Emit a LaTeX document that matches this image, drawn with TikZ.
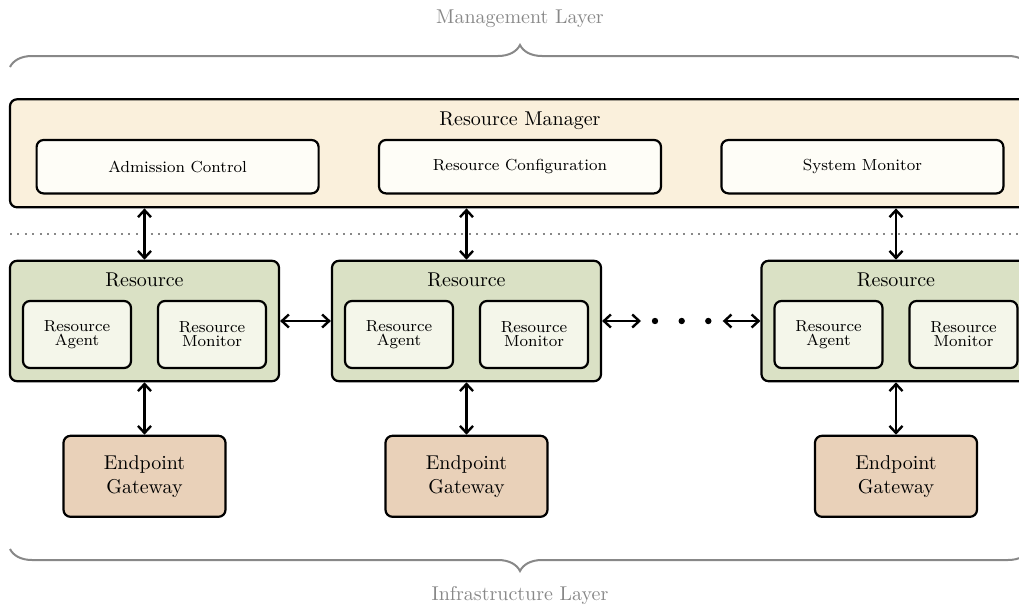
\documentclass[tikz,border=0pt]{standalone}
\definecolor{MgrCream}{HTML}{FAF0DC}
\definecolor{SubIvory}{HTML}{FEFDF7}
\definecolor{ResSage}{HTML}{DAE1C5}
\definecolor{AgentLite}{HTML}{F4F6EA}
\definecolor{GateTan}{HTML}{E9D1B9}
\definecolor{LayerGray}{HTML}{888888}
\usepackage{tikz}
\usepackage{xcolor}
\usetikzlibrary{positioning,arrows.meta,decorations.pathreplacing}

\begin{document}
\begin{tikzpicture}[x=0.5pt,y=-0.5pt,
          box/.style={draw=black,line width=1.1pt,rounded corners=3.5pt,
                      align=center},
          mgrbox/.style={box,fill=MgrCream,minimum width=510pt,
                      minimum height=54pt},
          subbox/.style={box,fill=SubIvory,minimum width=141pt,
                      minimum height=26.7pt,font=\footnotesize},
          resbox/.style={box,fill=ResSage,minimum width=134.5pt,
                      minimum height=60.2pt},
          inbox/.style={box,fill=AgentLite,minimum width=54pt,
                      minimum height=33.5pt,font=\footnotesize},
          gwbox/.style={box,fill=GateTan,minimum width=81pt,
                      minimum height=40.5pt},
          dotn/.style={circle,fill=black,inner sep=0pt,minimum size=3.2pt},
          ar/.style={{Straight Barb[length=3.5pt,width=6.5pt]}-{Straight Barb[length=3.5pt,width=6.5pt]},
                      line width=1.2pt},
          layer/.style={text=LayerGray},
          brc/.style={decorate,decoration={brace,amplitude=11pt},
                      draw=LayerGray,line width=1pt}]
        \useasboundingbox (0,0) rectangle (1019,605);
        % management layer
        \node[layer] (ML) at (520,18.3) {Management Layer};
        \draw[brc] (10,67) -- (1030,67);
        \node[mgrbox] (M) at (520,153.3) {};
        \node (Mt) at (520,121) {Resource Manager};
        \node[subbox] (AC) at (177.6,166.7) {Admission Control};
        \node[subbox] (RC) at (520,166.7) {Resource Configuration};
        \node[subbox] (SM) at (862.4,166.7) {System Monitor};
        \draw[LayerGray,line width=1pt,dash pattern=on 1pt off 2.7pt]
            (10,234) -- (1030,234);
        % resources
        \node[resbox] (R1) at (144.5,321) {};
        \node[resbox] (R2) at (466.5,321) {};
        \node[resbox] (R3) at (896,321) {};
        \node (R1t) at ([yshift=-10.1pt]R1.north) {Resource};
        \node (R2t) at ([yshift=-10.1pt]R2.north) {Resource};
        \node (R3t) at ([yshift=-10.1pt]R3.north) {Resource};
        \node[inbox] (A1) at ([xshift=-33.75pt,yshift=-6.75pt]R1.center) {Resource\\[-2.5pt]Agent};
        \node[inbox] (N1) at ([xshift=33.75pt,yshift=-6.75pt]R1.center) {Resource\\[-2.5pt]Monitor};
        \node[inbox] (A2) at ([xshift=-33.75pt,yshift=-6.75pt]R2.center) {Resource\\[-2.5pt]Agent};
        \node[inbox] (N2) at ([xshift=33.75pt,yshift=-6.75pt]R2.center) {Resource\\[-2.5pt]Monitor};
        \node[inbox] (A3) at ([xshift=-33.75pt,yshift=-6.75pt]R3.center) {Resource\\[-2.5pt]Agent};
        \node[inbox] (N3) at ([xshift=33.75pt,yshift=-6.75pt]R3.center) {Resource\\[-2.5pt]Monitor};
        % gateways
        \node[gwbox,below=26.2pt of R1] (G1) {Endpoint\\Gateway};
        \node[gwbox,below=26.2pt of R2] (G2) {Endpoint\\Gateway};
        \node[gwbox,below=26.2pt of R3] (G3) {Endpoint\\Gateway};
        % links
        \draw[ar] (R1.north |- M.south) -- (R1.north);
        \draw[ar] (R2.north |- M.south) -- (R2.north);
        \draw[ar] (R3.north |- M.south) -- (R3.north);
        \draw[ar] (R1.south) -- (G1.north);
        \draw[ar] (R2.south) -- (G2.north);
        \draw[ar] (R3.south) -- (G3.north);
        \draw[ar] (R1.east) -- (R2.west);
        \node[dotn] (D1) at (655,321) {};
        \node[dotn] (D2) at (681.7,321) {};
        \node[dotn] (D3) at (708.3,321) {};
        \coordinate (E2) at (641,321);
        \coordinate (E3) at (722.7,321);
        \draw[ar] (R2.east) -- (E2);
        \draw[ar] (E3) -- (R3.west);
        % infrastructure layer
        \draw[brc] (1030,549) -- (10,549);
        \node[layer] (IL) at (520,595) {Infrastructure Layer};
      \end{tikzpicture}
\end{document}
